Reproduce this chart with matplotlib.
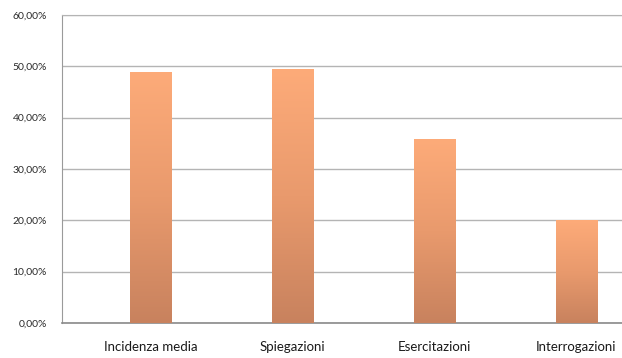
import numpy as np
import matplotlib
matplotlib.use('Agg')
from matplotlib import pyplot as plt
from matplotlib.ticker import FuncFormatter
from matplotlib.colors import LinearSegmentedColormap

# Quota percentuale per categoria
categorie = ['Incidenza media', 'Spiegazioni', 'Esercitazioni', 'Interrogazioni']
valori = [48.8, 49.3, 35.7, 19.9]
yticks = [0, 10, 20, 30, 40, 50, 60]

plt.rcParams['font.family'] = ['Lato', 'DejaVu Sans']

fig = plt.figure(figsize=(6.22, 3.58), dpi=100)
ax = fig.add_axes([0.0997, 0.0978, 0.9003, 0.8603])

# Gradiente verticale delle barre (chiaro in alto, scuro in basso)
cmap = LinearSegmentedColormap.from_list('arancio', ['#c8825e', '#e99a6d', '#fdab79'])
grad = np.linspace(0, 1, 256).reshape(-1, 1)
larghezza = 0.29
for i, v in enumerate(valori):
    ax.imshow(grad, extent=(i - larghezza / 2, i + larghezza / 2, 0, v),
              origin='lower', cmap=cmap, aspect='auto', zorder=3)

ax.set_xlim(-0.628, 3.324)
ax.set_ylim(0, 60)
ax.set_xticks(range(len(categorie)))
ax.set_xticklabels(categorie, fontsize=9.5, color='#1a1a1a')
ax.set_yticks(yticks)
ax.yaxis.set_major_formatter(FuncFormatter(lambda y, p: f'{y:.2f}%'.replace('.', ',')))
ax.tick_params(axis='y', labelsize=7.5, colors='#2a2a2a', length=0, pad=11)
ax.tick_params(axis='x', length=0, pad=13)

ax.grid(axis='y', color='#b4b4b4', linewidth=1.0, zorder=0)
ax.set_axisbelow(True)
ax.spines['right'].set_visible(False)
ax.spines['left'].set_color('#9a9a9a')
ax.spines['top'].set_color('#b4b4b4')
ax.spines['bottom'].set_color('#8a8a8a')
ax.spines['bottom'].set_linewidth(1.2)

fig.savefig('out.png', dpi=100)
